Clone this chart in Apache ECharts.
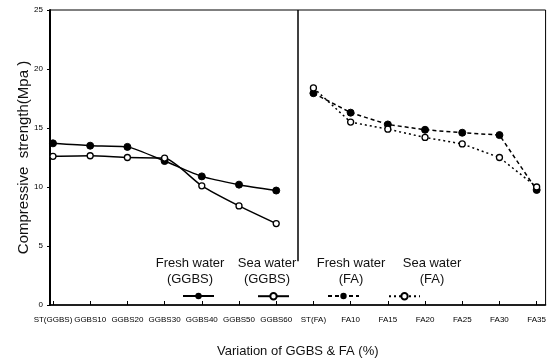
<!DOCTYPE html>
<html>
<head>
<meta charset="utf-8">
<script src="https://cdn.jsdelivr.net/npm/echarts@6/dist/echarts.min.js"></script>
<style>
html,body{margin:0;padding:0;background:#fff;}
#chart{width:549px;height:363px;}
</style>
</head>
<body>
<div id="chart"></div>
<script>
// ---- data ----
var categories = ['ST(GGBS)','GGBS10','GGBS20','GGBS30','GGBS40','GGBS50','GGBS60',
                  'ST(FA)','FA10','FA15','FA20','FA25','FA30','FA35'];
var freshGGBS = [13.7, 13.5, 13.4, 12.2, 10.9, 10.2, 9.7];
var seaGGBS   = [12.6, 12.65, 12.5, 12.45, 10.1, 8.4, 6.9];
var freshFA   = [17.95, 16.3, 15.3, 14.85, 14.6, 14.4, 9.75];
var seaFA     = [18.4, 15.5, 14.9, 14.2, 13.65, 12.5, 10.0];
var yTicks    = [0, 5, 10, 15, 20, 25];
var seriesNames = ['Fresh water\n(GGBS)', 'Sea water\n(GGBS)', 'Fresh water\n(FA)', 'Sea water\n(FA)'];

var faOffset = 7;
function pairs(vals, off){ return vals.map(function(v,i){ return [i+off, v]; }); }
var tickIdx = categories.map(function(_, i){ return i; });

var chart = echarts.init(document.getElementById('chart'), null, {renderer:'canvas'});

var font = 'Liberation Sans, Arial, sans-serif';
function legendAt(name, left){
  return {
    data:[name], left:left, top:292, padding:0, itemWidth:31, itemHeight:8,
    selectedMode:false, formatter:function(){ return ''; }, textStyle:{fontSize:1}
  };
}

var option = {
  animation:false,
  backgroundColor:'#fff',
  grid:{left:50, right:2, top:10, bottom:48, show:true, borderColor:'#000', borderWidth:1, backgroundColor:'transparent'},
  xAxis:{
    type:'value', min:-0.08, max:13.24,
    name:'Variation of GGBS & FA (%)', nameLocation:'middle', nameGap:40, nameMoveOverlap:false,
    nameTextStyle:{fontFamily:font, fontSize:13, color:'#111'},
    axisLine:{lineStyle:{color:'#000', width:1.5}},
    splitLine:{show:false},
    axisTick:{show:true, inside:true, length:4, customValues:tickIdx, lineStyle:{color:'#000'}},
    axisLabel:{customValues:tickIdx, fontFamily:font, fontSize:8, color:'#000', margin:11,
      formatter:function(v){ return categories[Math.round(v)]; }}
  },
  yAxis:{
    type:'value', min:0, max:25, interval:5,
    name:'Compressive  strength(Mpa )', nameLocation:'middle', nameGap:19, nameRotate:90, nameMoveOverlap:false,
    nameTextStyle:{fontFamily:font, fontSize:15, color:'#111'},
    axisLine:{show:true, onZero:false, lineStyle:{color:'#000', width:2}},
    splitLine:{show:false},
    axisTick:{show:true, length:3, lineStyle:{color:'#000'}},
    axisLabel:{fontFamily:font, fontSize:8, color:'#000', margin:7,
      formatter:function(v){ return yTicks.indexOf(v) >= 0 ? String(v) : ''; }}
  },
  legend:[
    legendAt(seriesNames[0], 182),
    legendAt(seriesNames[1], 257),
    legendAt(seriesNames[2], 327),
    legendAt(seriesNames[3], 388)
  ],
  graphic:[
    {type:'text', x:190, y:255, style:{text:'Fresh water\n(GGBS)', align:'center', fontFamily:font, fontSize:13, lineHeight:16, fill:'#111'}},
    {type:'text', x:267, y:255, style:{text:'Sea water\n(GGBS)', align:'center', fontFamily:font, fontSize:13, lineHeight:16, fill:'#111'}},
    {type:'text', x:351, y:255, style:{text:'Fresh water\n(FA)', align:'center', fontFamily:font, fontSize:13, lineHeight:16, fill:'#111'}},
    {type:'text', x:432, y:255, style:{text:'Sea water\n(FA)', align:'center', fontFamily:font, fontSize:13, lineHeight:16, fill:'#111'}}
  ],
  series:[
    {name:seriesNames[0], type:'line', data:pairs(freshGGBS,0), smooth:0.2,
     symbol:'circle', symbolSize:7, itemStyle:{color:'#000', borderColor:'#000'},
     lineStyle:{color:'#000', width:1.5, type:'solid'}},
    {name:seriesNames[1], type:'line', data:pairs(seaGGBS,0), smooth:0.2,
     symbol:'circle', symbolSize:6, itemStyle:{color:'#fff', borderColor:'#000', borderWidth:1.3},
     lineStyle:{color:'#000', width:1.5, type:'solid'}},
    {name:seriesNames[2], type:'line', data:pairs(freshFA,faOffset),
     symbol:'circle', symbolSize:7, itemStyle:{color:'#000', borderColor:'#000'},
     lineStyle:{color:'#000', width:1.5, type:[4,3]},
     markLine:{silent:true, symbol:'none', label:{show:false},
       lineStyle:{color:'#000', width:1.5, type:'solid'},
       data:[[{coord:[6.57, 25]}, {coord:[6.57, 3.7]}]]}},
    {name:seriesNames[3], type:'line', data:pairs(seaFA,faOffset),
     symbol:'circle', symbolSize:6, itemStyle:{color:'#fff', borderColor:'#000', borderWidth:1.3},
     lineStyle:{color:'#000', width:1.5, type:[2,3]}}
  ]
};
chart.setOption(option);
</script>
</body>
</html>
